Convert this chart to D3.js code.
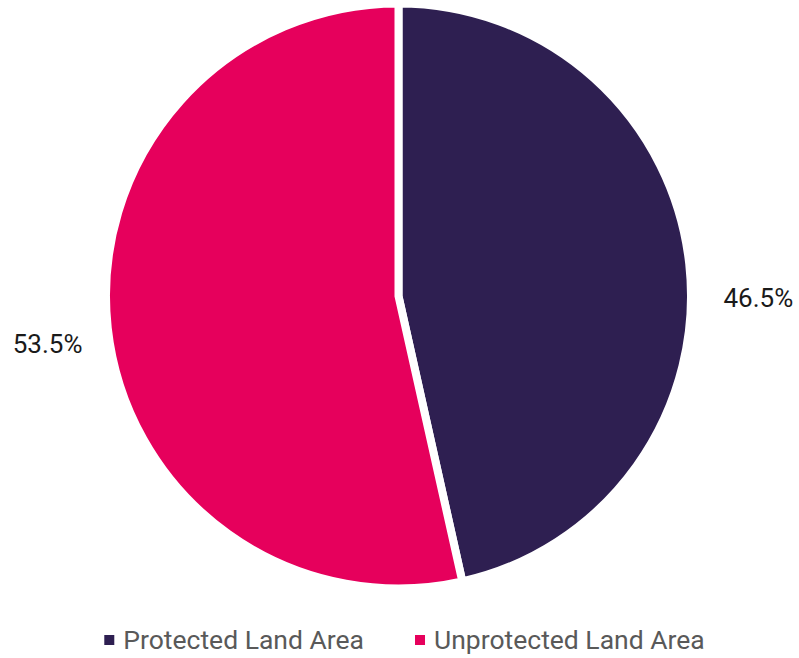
<!DOCTYPE html>
<html>
<head>
<meta charset="utf-8">
<script src="https://cdn.jsdelivr.net/npm/d3@7"></script>
<style>
  body { margin: 0; background: #fff; }
  svg { display: block; font-family: Roboto, "Noto Sans", sans-serif; }
</style>
</head>
<body>
<div id="chart"></div>
<script>
// data
var categories = ["Protected Land Area", "Unprotected Land Area"];
var values = [46.5, 53.5];
var labels = ["46.5%", "53.5%"];
var colors = ["#2e1f51", "#e6005c"];

var width = 799, height = 658;
var cx = 398.5, cy = 296, radius = 292.5;

var svg = d3.select("#chart").append("svg")
    .attr("width", width)
    .attr("height", height);

var pie = d3.pie().sort(null).value(function(d) { return d; });
var arc = d3.arc().innerRadius(0).outerRadius(radius);
var arcs = pie(values);

var g = svg.append("g")
    .attr("transform", "translate(" + cx + "," + cy + ")");

g.selectAll("path")
    .data(arcs)
    .enter().append("path")
    .attr("d", arc)
    .attr("fill", function(d, i) { return colors[i]; })
    .attr("stroke", "#fff")
    .attr("stroke-width", 8)
    .attr("stroke-linejoin", "miter");

// labels outside the pie, left/right of it
var labelOffset = [{dx: 325, dy: 11}, {dx: -316, dy: 57}];
g.selectAll("text.lbl")
    .data(arcs)
    .enter().append("text")
    .attr("class", "lbl")
    .attr("x", function(d, i) { return labelOffset[i].dx; })
    .attr("y", function(d, i) { return labelOffset[i].dy; })
    .attr("text-anchor", function(d, i) { return i == 0 ? "start" : "end"; })
    .attr("font-size", 26)
    .attr("fill", "#1a1a1a")
    .text(function(d, i) { return labels[i]; });

// legend
var legend = svg.append("g").attr("transform", "translate(0,649)");
var items = legend.selectAll("g")
    .data(categories)
    .enter().append("g");

items.append("rect")
    .attr("y", -14)
    .attr("width", 10)
    .attr("height", 10)
    .attr("fill", function(d, i) { return colors[i]; });

items.append("text")
    .attr("x", 19)
    .attr("font-size", 26.5)
    .attr("fill", "#595959")
    .text(function(d) { return d; });

var x = 0, gap = 51, pos = [];
items.each(function() {
    pos.push(x);
    x += this.getBBox().width + gap;
});
var total = x - gap;
var start = (width - total) / 2 + 5;
items.attr("transform", function(d, i) { return "translate(" + (start + pos[i]) + ",0)"; });
</script>
</body>
</html>
